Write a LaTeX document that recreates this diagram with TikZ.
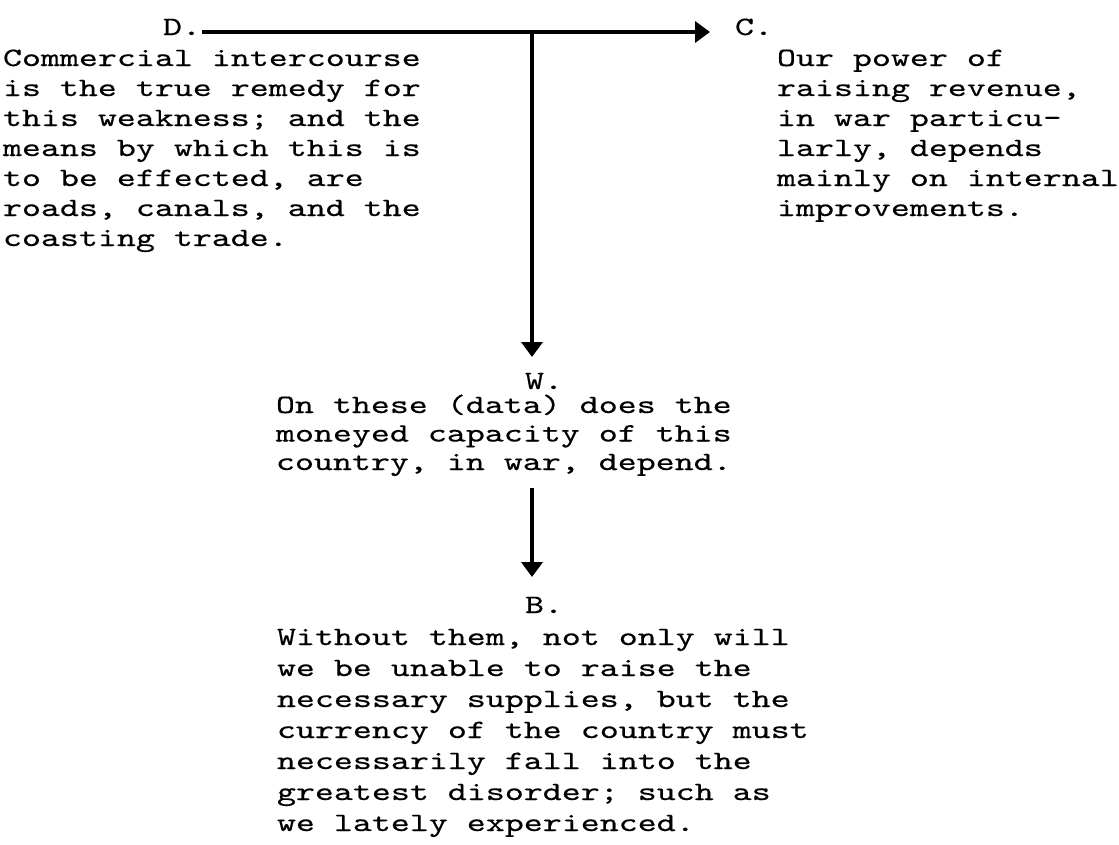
\documentclass[tikz,border=0pt]{standalone}
\usepackage{fontspec}
\usetikzlibrary{arrows.meta}

% wide typewriter face with a little extra ink
\newfontfamily\twfont{lmmono10-regular.otf}[FakeStretch=1.365, FakeBold=0.4]

% typewriter-style text block with a fixed line pitch
\newcommand\twtext[2][30]{{\twfont\fontsize{26.5}{#1}\selectfont
  \begin{tabular}[t]{@{}l@{}}#2\end{tabular}}}

\tikzset{
  lbl/.style={anchor=base west, inner sep=0pt, outer sep=0pt},
  arr/.style={line width=3.8pt, draw=black,
    -{Triangle[length=15pt,width=21pt]}},
}

\begin{document}
\begin{tikzpicture}[x=1pt,y=-1pt]
  \useasboundingbox (0,0) rectangle (1119,844);
  \fill[white] (0,0) rectangle (1119,844);

  % section labels
  \node[lbl] (D) at (163,35)  {\twtext{D.}};
  \node[lbl] (C) at (735,35)  {\twtext{C.}};
  \node[lbl] (W) at (525,389) {\twtext{W.}};
  \node[lbl] (B) at (525,613) {\twtext{B.}};

  % text blocks
  \node[lbl] (dtext) at (3,66) {\twtext{%
    Commercial intercourse\\
    is the true remedy for\\
    this weakness; and the\\
    means by which this is\\
    to be effected, are\\
    roads, canals, and the\\
    coasting trade.}};

  \node[lbl] (ctext) at (777,66) {\twtext{%
    Our power of\\
    raising revenue,\\
    in war particu-\\
    larly, depends\\
    mainly on internal\\
    improvements.}};

  \node[lbl] (wtext) at (276,413) {\twtext[28.5]{%
    On these (data) does the\\
    moneyed capacity of this\\
    country, in war, depend.}};

  \node[lbl] (btext) at (277,645) {\twtext[31]{%
    Without them, not only will\\
    we be unable to raise the\\
    necessary supplies, but the\\
    currency of the country must\\
    necessarily fall into the\\
    greatest disorder; such as\\
    we lately experienced.}};

  % connectors
  \coordinate (j) at (532,32);
  \draw[arr, shorten <=1pt, shorten >=25pt]
    ([yshift=3pt]D.base east) -- ([yshift=3pt]C.base west);
  \draw[arr, shorten >=11pt] (j) -- (j |- W.north);
  \draw[arr, shorten <=9pt, shorten >=15pt]
    (wtext.south -| j) -- (B.north -| j);
\end{tikzpicture}
\end{document}
